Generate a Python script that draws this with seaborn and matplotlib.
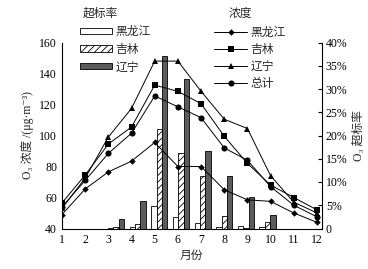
import matplotlib
matplotlib.use("Agg")
import matplotlib.pyplot as plt
import seaborn as sns
import pandas as pd
from matplotlib.ticker import FuncFormatter

months = list(range(1, 13))
provinces = ["黑龙江", "吉林", "辽宁"]
conc_series = ["黑龙江", "吉林", "辽宁", "总计"]

# O3 concentration (μg·m-3)
conc_hlj = [49, 65.5, 76.5, 83.5, 95.5, 80, 80, 65, 58.5, 57.5, 50, 44]
conc_jl = [56.5, 74.5, 94.5, 105.5, 132.5, 128.5, 120.5, 99.5, 82, 68, 60, 52]
conc_ln = [53, 72.5, 99, 117.5, 148, 148, 128.5, 110.5, 104.5, 74, 57, 50]
conc_total = [54, 71, 88.5, 101.5, 125.5, 118.5, 111.5, 92, 84, 67, 55, 47.5]

# O3 exceedance rate (%)
rate_hlj = [0, 0, 0.2, 0.3, 4.8, 2.4, 1.1, 0.3, 0.6, 0.3, 0, 0]
rate_jl = [0, 0, 0.3, 0.9, 21.3, 16.2, 11.2, 2.7, 0.2, 1.3, 0, 0]
rate_ln = [0, 0, 2.0, 5.9, 37.1, 32.2, 16.6, 11.2, 6.7, 2.8, 0, 0]

sns.set_theme(style="white")
plt.rcParams["font.family"] = ["Liberation Serif", "Noto Sans CJK SC", "DejaVu Sans"]
plt.rcParams["hatch.linewidth"] = 0.6
FS = 8.5

df_conc = pd.DataFrame({
    "month": months * 4,
    "conc": conc_hlj + conc_jl + conc_ln + conc_total,
    "series": sum([[s] * 12 for s in conc_series], []),
})
df_rate = pd.DataFrame({
    "month": [str(m) for m in months] * 3,
    "rate": rate_hlj + rate_jl + rate_ln,
    "prov": sum([[p] * 12 for p in provinces], []),
})

fig = plt.figure(figsize=(3.68, 2.69), dpi=100)
pos = [62 / 368, 1 - 228.5 / 269, 259.6 / 368, 186 / 269]
ax_bar = fig.add_axes(pos)
ax_line = fig.add_axes(pos)
ax_line.patch.set_visible(False)

# Bars (exceedance rate)
sns.barplot(data=df_rate, x="month", y="rate", hue="prov", hue_order=provinces,
            order=[str(m) for m in months],
            palette=["white", "white", "#5c5c5c"], edgecolor="black",
            linewidth=0.6, width=0.75, ax=ax_bar, legend=False, errorbar=None,
            saturation=1)
for p in ax_bar.containers[1].patches:
    p.set_hatch("/////")
ax_bar.set_xlim(-0.5, 11.5)
ax_bar.set_ylim(0, 40)
ax_bar.set_xticks([])
ax_bar.set_xlabel("")
ax_bar.yaxis.tick_right()
ax_bar.yaxis.set_label_position("right")
ax_bar.set_yticks(range(0, 41, 5))
ax_bar.yaxis.set_major_formatter(FuncFormatter(lambda v, _: "0" if v == 0 else f"{int(v)}%"))
ax_bar.set_ylabel("O₃ 超标率", fontsize=FS, rotation=90, labelpad=4)
for s in ["top", "left", "bottom"]:
    ax_bar.spines[s].set_visible(False)
ax_bar.spines["right"].set_color("black")
ax_bar.spines["right"].set_linewidth(0.8)
ax_bar.tick_params(axis="y", which="major", direction="in", length=3, width=0.8,
                   labelsize=FS, right=True, left=False, pad=3, colors="black")

# Lines (concentration)
sns.lineplot(data=df_conc, x="month", y="conc", hue="series", style="series",
             hue_order=conc_series, style_order=conc_series,
             palette=["black"] * 4, markers=["D", "s", "^", "o"], dashes=False,
             linewidth=0.7, ax=ax_line, legend=False, markeredgewidth=0)
msizes = [3.3, 4.3, 4.6, 4.4]
for ln, ms in zip(ax_line.lines, msizes):
    ln.set_markersize(ms)
    ln.set_markerfacecolor("black")
    ln.set_markeredgecolor("black")
ax_line.set_xlim(1, 12.2)
ax_line.set_ylim(40, 160)
ax_line.set_xticks(months)
ax_line.set_yticks(range(40, 161, 20))
ax_line.set_xlabel("月份", fontsize=FS, labelpad=3)
ax_line.set_ylabel("O₃ 浓度 /(μg·m⁻³)", fontsize=FS, labelpad=4)
for s in ["top", "right"]:
    ax_line.spines[s].set_visible(False)
for s in ["left", "bottom"]:
    ax_line.spines[s].set_color("black")
    ax_line.spines[s].set_linewidth(0.8)
ax_line.tick_params(axis="both", direction="in", length=3, width=0.8,
                    labelsize=FS, colors="black")
ax_line.tick_params(axis="x", pad=4)

# Legends
bar_handles = list(ax_bar.containers)
leg1 = fig.legend(bar_handles, provinces, loc="upper left",
                  bbox_to_anchor=(80 / 368, 1 - 26 / 269), frameon=False,
                  fontsize=FS, handlelength=2.7, handleheight=0.45,
                  labelspacing=0.48, handletextpad=0.3, borderpad=0, borderaxespad=0)
fig.text(83 / 368, 1 - 14 / 269, "超标率", fontsize=FS, va="center", ha="left")

line_handles = list(ax_line.lines)
leg2 = fig.legend(line_handles, conc_series, loc="upper left",
                  bbox_to_anchor=(214 / 368, 1 - 27 / 269), frameon=False,
                  fontsize=FS, handlelength=2.8, labelspacing=0.42,
                  handletextpad=0.3, borderpad=0, borderaxespad=0)
fig.text(229 / 368, 1 - 14 / 269, "浓度", fontsize=FS, va="center", ha="left")

fig.savefig("out.png", dpi=100)
